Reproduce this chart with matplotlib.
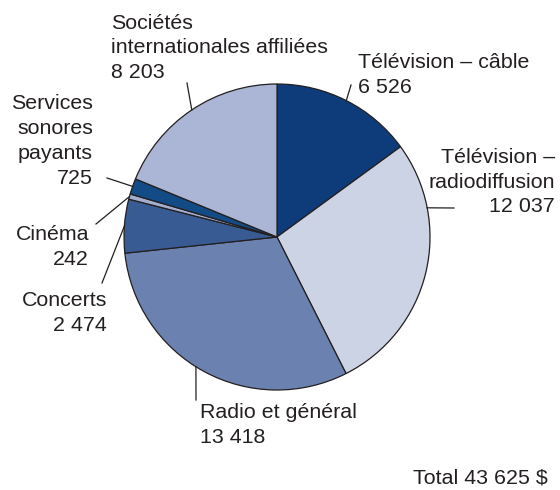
import numpy as np
from matplotlib import pyplot as plt

# Répartition des revenus, dans l'ordre horaire depuis midi
labels = ['Télévision – câble', 'Télévision –\nradiodiffusion', 'Radio et général',
          'Concerts', 'Cinéma', 'Services\nsonores\npayants',
          'Sociétés\ninternationales affiliées']
values = [6526, 12037, 13418, 2474, 242, 725, 8203]
colors = ['#0e3c7a', '#ccd3e5', '#6b82b1', '#395b93', '#a4afcf', '#134b87', '#abb5d5']
total_label = 'Total 43 625 $'

txt = '#231f20'
W, H = 560, 490
cx, cy, r = 277, H - 237, 153


def fmt(v):
    return f'{v:,}'.replace(',', ' ')


plt.rcParams['font.family'] = ['Liberation Sans', 'DejaVu Sans']

fig = plt.figure(figsize=(5.6, 4.9), dpi=100)
ax = fig.add_axes([0, 0, 1, 1])
ax.pie(values, colors=colors, startangle=90, counterclock=False,
       center=(cx, cy), radius=r,
       wedgeprops=dict(edgecolor=txt, linewidth=0.9))
ax.set_xlim(0, W)
ax.set_ylim(0, H)
ax.set_aspect('equal')
ax.axis('off')

# angle (horaire depuis midi) du départ de chaque trait de rappel
frac = np.cumsum([0] + values) / sum(values) * 360
mid = (frac[:-1] + frac[1:]) / 2
leader_ang = list(mid)
leader_ang[1] = 79
leader_ang[2] = 212
# extrémité extérieure des traits (x, y en pixels depuis le haut)
leader_end = [(351, 85), (454, 208), (196, 400), (102, 283), (96, 224), (107, 178), (187, 83)]
# position des étiquettes : x, y du centre du bloc, alignement
text_pos = [(358, 75, 'left'), (555, 182, 'right'), (200, 425, 'left'),
            (107, 313, 'right'), (89, 247, 'right'), (93, 141, 'right'),
            (111, 48, 'left')]

for lab, v, a, end, (tx, ty, ha) in zip(labels, values, leader_ang, leader_end, text_pos):
    t = np.radians(a)
    x0, y0 = cx + r * np.sin(t), cy + r * np.cos(t)
    ax.plot([x0, end[0]], [y0, H - end[1]], color=txt, lw=0.9)
    ax.text(tx, H - ty, f'{lab}\n{fmt(v)}', ha=ha, va='center', fontsize=15.4,
            color=txt, linespacing=1.38, multialignment=ha)

ax.text(548, H - 478, total_label, ha='right', va='center', fontsize=15.4, color=txt)

fig.savefig('out.png', dpi=100)
